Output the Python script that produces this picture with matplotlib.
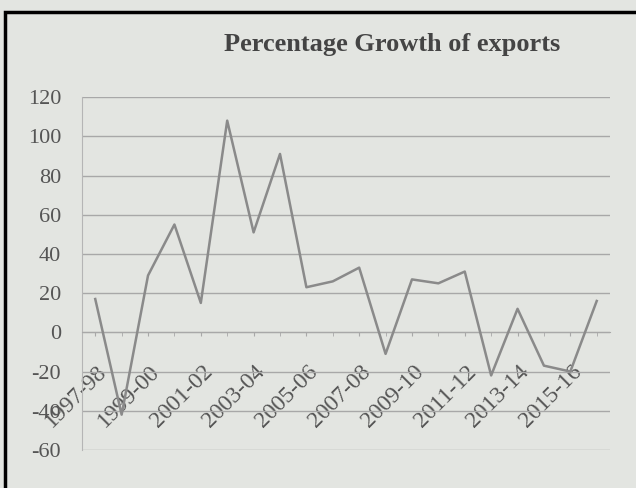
# Percentage growth of exports, Excel-style line chart
import matplotlib.pyplot as plt
import matplotlib.transforms as mtransforms
from matplotlib.patches import Rectangle

years = ["1997-98", "1998-99", "1999-00", "2000-01", "2001-02", "2002-03",
         "2003-04", "2004-05", "2005-06", "2006-07", "2007-08", "2008-09",
         "2009-10", "2010-11", "2011-12", "2012-13", "2013-14", "2014-15",
         "2015-16", "2016-17"]
growth = [17, -42, 29, 55, 15, 108, 51, 91, 23, 26, 33, -11,
          27, 25, 31, -22, 12, -17, -20, 16]
yticks = [-60, -40, -20, 0, 20, 40, 60, 80, 100, 120]

plt.rcParams["font.family"] = ["Liberation Serif", "DejaVu Serif"]
plt.rcParams["axes.unicode_minus"] = False

bg = "#e3e5e1"
fig = plt.figure(figsize=(6.36, 4.88), dpi=100, facecolor=bg)
fig.patches.append(Rectangle((5 / 636, -0.05), 1.1, 1.05 - 12 / 488,
                             transform=fig.transFigure, fill=False,
                             edgecolor="black", lw=2.5))

ax = fig.add_axes([0.129, 0.078, 0.83, 0.723])
ax.set_facecolor(bg)
x = range(len(years))
ax.plot(x, growth, color="#8a8a8a", lw=1.8, zorder=3)

ax.set_xlim(-0.5, len(years) - 0.5)
ax.set_ylim(-60, 120)
ax.set_yticks(yticks)
ax.tick_params(axis="y", length=0, labelsize=16, labelcolor="#555555", pad=15)
ax.yaxis.grid(True, color="#a8a8a8", lw=1)
ax.set_axisbelow(True)

for s in ["top", "right"]:
    ax.spines[s].set_visible(False)
ax.spines["left"].set_color("#b5b5b5")
ax.spines["bottom"].set_position(("data", 0))
ax.spines["bottom"].set_color("#a8a8a8")

ax.set_xticks(list(x)[::2])
ax.set_xticklabels(years[::2], rotation=45, ha="right", va="top",
                   rotation_mode="anchor", fontsize=17, color="#555555")
ax.set_xticks(list(x), minor=True)
ax.tick_params(axis="x", which="both", length=3, color="#a8a8a8", pad=18)
shift = mtransforms.ScaledTranslation(1 / 100, 0, fig.dpi_scale_trans)
for lab in ax.get_xticklabels():
    lab.set_transform(lab.get_transform() + shift)

fig.text(0.617, 0.895, "Percentage Growth of exports", ha="center",
         fontsize=19, fontweight="bold", color="#444444")

fig.savefig("out.png", facecolor=bg)
